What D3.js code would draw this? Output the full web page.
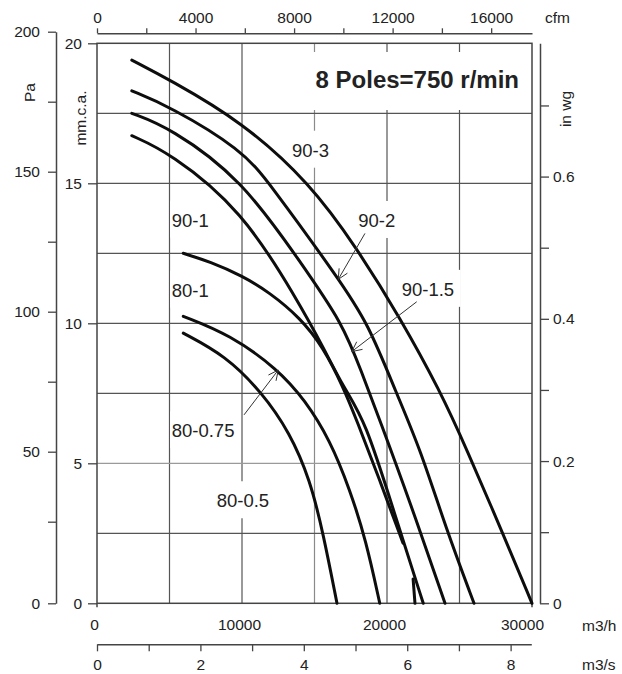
<!DOCTYPE html>
<html><head><meta charset="utf-8">
<script src="https://cdn.jsdelivr.net/npm/d3@7"></script>
<style>
body{margin:0;background:#fff}
svg{display:block}
text{font-family:"Liberation Sans",Arial,Helvetica,sans-serif;fill:#222}
</style>
</head><body>
<svg id="c" width="622" height="674"></svg>
<script>
// ---------- data ----------
const flowTicks = [0, 10000, 20000, 30000];          // m3/h
const gridFlow = [5000, 10000, 15000, 20000, 25000];
const gridMM = [2.5, 5, 7.5, 10, 12.5, 15, 17.5];
const mmTicks = [0, 5, 10, 15, 20];
const paTicks = [0, 25, 50, 75, 100, 125, 150, 175, 200];
const paLabels = [0, 50, 100, 150, 200];
const wgTicks = [0, 0.1, 0.2, 0.3, 0.4, 0.5, 0.6, 0.7];
const wgLabels = [0, 0.2, 0.4, 0.6];
const cfmTicks = [0, 2000, 4000, 6000, 8000, 10000, 12000, 14000, 16000];
const cfmLabels = [0, 4000, 8000, 12000, 16000];
const m3sTicks = [0, 1, 2, 3, 4, 5, 6, 7, 8];
const m3sLabels = [0, 2, 4, 6, 8];

// curves: [m3/h, mm.c.a.]
const c90_3 = [[2400,19.4],[5000,18.7],[10000,17.2],[14700,15.0],[17900,12.7],[20900,10.2],[23650,7.6],[25500,5.5],[27900,2.6],[30000,0]];
const c90_2 = [[2400,18.3],[5000,17.75],[10000,16.2],[11900,15.0],[16650,11.6],[18700,10.0],[20650,7.5],[22300,5.5],[24050,2.7],[26000,0]];
const c90_15 = [[2400,17.5],[5000,17.0],[10000,15.15],[14000,12.2],[16950,10.0],[18250,8.25],[19500,6.55],[21600,3.6],[24000,0]];
const c90_1 = [[2400,16.7],[5000,16.1],[10000,14.05],[13800,10.85],[15600,9.15],[17000,7.7],[18500,6.55],[20550,3.15],[22500,0]];
const c80_1 = [[5950,12.5],[7800,12.2],[10000,11.7],[11900,11.1],[14000,10.2],[15600,9.15],[17000,7.7],[17900,6.55],[19500,4.4],[21100,2.15]];
const c80_1tail = [[21800,0.87],[21930,0]];
const c80_075 = [[5950,10.25],[9150,9.6],[12500,8.35],[14350,7.25],[16050,5.85],[17450,4.05],[18550,2.25],[19500,0]];
const c80_05 = [[5950,9.65],[8850,8.85],[11350,7.55],[13300,6.1],[14700,4.4],[15600,2.5],[16550,0]];
const curves = [c90_3, c90_2, c90_15, c90_1, c80_1, c80_1tail, c80_075, c80_05];

const curveLabels = ["90-3","90-2","90-1.5","90-1","80-1","80-0.75","80-0.5"];
const labelPos = [[13450,15.95],[18020,13.44],[21010,10.98],[5150,13.45],[5150,10.95],[5150,5.93],[8255,3.43]];
// arrows: [from, to] in [m3/h, mm.c.a.]
const arrows = [
  [[18480,13.21],[16640,11.57]],
  [[22050,10.77],[17570,8.99]],
  [[10140,6.73],[12500,8.33]]
];
const title = "8 Poles=750 r/min";

// ---------- scales ----------
const x = d3.scaleLinear().domain([0, 30000]).range([97, 532]);
const y = d3.scaleLinear().domain([0, 20]).range([603.3, 43.3]);
const yPa = d3.scaleLinear().domain([0, 25, 200]).range([603.3, 521.7, 31.7]);
const yWg = d3.scaleLinear().domain([0, 20/25.4]).range([603.3, 43.3]);
const xCfm = d3.scaleLinear().domain([0, 30000/1.699]).range([97, 532]);
const xM3s = d3.scaleLinear().domain([0, 8.4]).range([97, 531.3]);

const svg = d3.select("#c");
const FS = 15.5;
const fmt = d3.format("d");

// ---------- grid ----------
const grid = svg.append("g");
grid.selectAll("line.v").data(gridFlow).join("line")
  .attr("x1", d => x(d)).attr("x2", d => x(d))
  .attr("y1", y(20)).attr("y2", y(0))
  .attr("stroke", d => d === 15000 ? "#8a8a8a" : "#555").attr("stroke-width", 1.2);
grid.selectAll("line.h").data(gridMM).join("line")
  .attr("x1", x(0)).attr("x2", x(30000))
  .attr("y1", d => y(d)).attr("y2", d => y(d))
  .attr("stroke", d => d === 5 ? "#9a9a9a" : "#555").attr("stroke-width", 1.2);

// ---------- label backgrounds + labels ----------
const bgLayer = svg.append("g");
const txtLayer = svg.append("g");
const titleT = txtLayer.append("text")
  .attr("x", 519).attr("y", 88).attr("text-anchor", "end")
  .attr("font-size", 24).attr("font-weight", "bold").attr("fill", "#111").text(title);
{
  const b = titleT.node().getBBox();
  bgLayer.append("rect").attr("x", b.x - 5).attr("y", 52).attr("width", b.width + 12).attr("height", 58).attr("fill", "#fff");
}
curveLabels.forEach((t, i) => {
  const tx = txtLayer.append("text")
    .attr("x", x(labelPos[i][0])).attr("y", y(labelPos[i][1]))
    .attr("font-size", 18.5).text(t);
  const b = tx.node().getBBox();
  const base = y(labelPos[i][1]);
  bgLayer.append("rect").attr("x", b.x - 1.5).attr("y", base - 26)
    .attr("width", b.width + 8).attr("height", 37).attr("fill", "#fff");
});

// ---------- frame ----------
const frame = svg.append("g").attr("stroke", "#444").attr("stroke-width", 1.5).attr("fill", "none");
frame.append("rect").attr("x", x(0)).attr("y", y(20)).attr("width", x(30000) - x(0)).attr("height", y(0) - y(20));
frame.append("line").attr("x1", x(0)).attr("x2", x(0)).attr("y1", y(0)).attr("y2", y(0) + 4);
frame.append("line").attr("x1", x(30000)).attr("x2", x(30000)).attr("y1", y(0)).attr("y2", y(0) + 4);

function styleAxis(sel) {
  sel.selectAll("path.domain").attr("stroke", "#444").attr("stroke-width", 1.5);
  sel.selectAll(".tick line").attr("stroke", "#444").attr("stroke-width", 1.3);
  sel.selectAll(".tick text").attr("font-size", FS).attr("fill", "#222")
    .attr("font-family", '"Liberation Sans",Arial,sans-serif');
}

// Pa axis
const aPa = svg.append("g").attr("transform", "translate(56,0)")
  .call(d3.axisLeft(yPa).tickValues(paTicks).tickSize(8).tickSizeOuter(0).tickPadding(8)
    .tickFormat(d => paLabels.includes(d) ? fmt(d) : ""));
styleAxis(aPa);
// mm axis
const aMM = svg.append("g").attr("transform", `translate(${x(0)},0)`)
  .call(d3.axisLeft(y).tickValues(mmTicks).tickSize(9).tickSizeOuter(0).tickPadding(6).tickFormat(fmt));
styleAxis(aMM);
aMM.select("path.domain").remove();
// in wg axis
const aWg = svg.append("g").attr("transform", "translate(540,0)")
  .call(d3.axisRight(yWg).tickValues(wgTicks).tickSize(9).tickSizeOuter(0).tickPadding(4)
    .tickFormat(d => wgLabels.some(v => Math.abs(v - d) < 1e-9) ? String(+d.toFixed(1)) : ""));
styleAxis(aWg);
// cfm axis
const aCfm = svg.append("g").attr("transform", "translate(0,33.3)")
  .call(d3.axisTop(xCfm).tickValues(cfmTicks).tickSize(5).tickSizeOuter(0).tickPadding(5.3)
    .tickFormat(d => cfmLabels.includes(d) ? fmt(d) : ""));
styleAxis(aCfm);
// m3/h labels
const aQ = svg.append("g").attr("transform", `translate(0,${y(0)})`)
  .call(d3.axisBottom(x).tickValues(flowTicks).tickSize(0).tickPadding(15.7).tickFormat(fmt));
styleAxis(aQ);
aQ.select("path.domain").remove();
aQ.selectAll(".tick text").attr("dx", d => d === 30000 ? -10 : -3);
// m3/s axis
const aS = svg.append("g").attr("transform", "translate(0,644.3)")
  .call(d3.axisBottom(xM3s).tickValues(m3sTicks).tickSize(7).tickSizeOuter(0).tickPadding(7.7)
    .tickFormat(d => m3sLabels.includes(d) ? fmt(d) : ""));
styleAxis(aS);

// unit labels
const units = svg.append("g");
units.append("text").attr("x", 545).attr("y", 23).attr("font-size", FS).text("cfm");
units.append("text").attr("x", 582).attr("y", 631).attr("font-size", FS).text("m3/h");
units.append("text").attr("x", 582).attr("y", 669.5).attr("font-size", FS).text("m3/s");
units.append("text").attr("transform", "translate(35,92.5) rotate(-90)").attr("text-anchor", "middle").attr("font-size", FS).text("Pa");
units.append("text").attr("transform", "translate(86,118) rotate(-90)").attr("text-anchor", "middle").attr("font-size", FS).text("mm.c.a.");
units.append("text").attr("transform", "translate(571,109) rotate(-90)").attr("text-anchor", "middle").attr("font-size", FS).text("in wg");

// ---------- curves ----------
const line = d3.line().x(d => x(d[0])).y(d => y(d[1])).curve(d3.curveBasis);
svg.append("g").selectAll("path").data(curves).join("path")
  .attr("d", line).attr("fill", "none").attr("stroke", "#0d0d0d")
  .attr("stroke-width", 3).attr("stroke-linecap", "round").attr("stroke-linejoin", "round");

// ---------- arrows ----------
const ag = svg.append("g").attr("stroke", "#333").attr("stroke-width", 1).attr("fill", "none");
arrows.forEach(([a, b]) => {
  const x1 = x(a[0]), y1 = y(a[1]), x2 = x(b[0]), y2 = y(b[1]);
  ag.append("line").attr("x1", x1).attr("y1", y1).attr("x2", x2).attr("y2", y2);
  const ang = Math.atan2(y1 - y2, x1 - x2), L = 11, s = 0.45;
  ag.append("path").attr("d",
    `M${x2 + L*Math.cos(ang + s)},${y2 + L*Math.sin(ang + s)}L${x2},${y2}L${x2 + L*Math.cos(ang - s)},${y2 + L*Math.sin(ang - s)}`);
});
</script>
</body></html>
